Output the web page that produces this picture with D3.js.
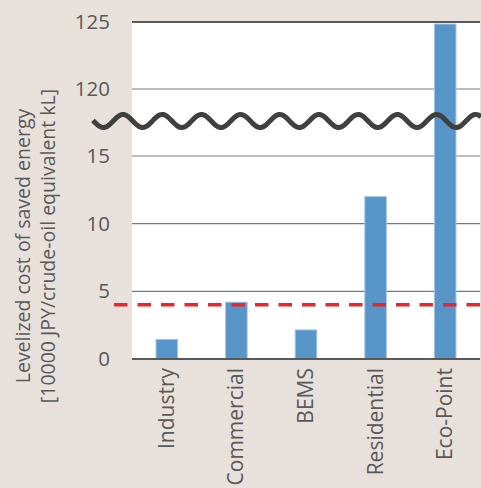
<!DOCTYPE html>
<html>
<head>
<meta charset="utf-8">
<script src="https://cdn.jsdelivr.net/npm/d3@7"></script>
<style>
  html, body { margin: 0; padding: 0; background: #e8e0db; }
  svg { display: block; }
</style>
</head>
<body>
<svg id="chart"></svg>
<script>
// Chart data
const categories = ["Industry", "Commercial", "BEMS", "Residential", "Eco-Point"];
const values = [1.45, 4.2, 2.15, 12.0, 124.85];
const lowerTicks = [0, 5, 10, 15];
const upperTicks = [120, 125];
const threshold = 4.0;

const width = 481;
const height = 488;
const font = "'Open Sans', sans-serif";
const textColor = "#595959";

const svg = d3.select("#chart")
    .attr("width", width)
    .attr("height", height);

// Plot area bounds
const left = 132, right = 480;

// Broken y axis: two scales with the same step
const yLow = d3.scaleLinear().domain([0, 15]).range([359, 156]);
const yHigh = d3.scaleLinear().domain([120, 125]).range([89, 22]);
const y = v => v <= 15 ? yLow(v) : yHigh(v);

const x = d3.scaleBand()
    .domain(categories)
    .range([left, right])
    .paddingInner(0.69)
    .paddingOuter(0.345);

// White plot background
svg.append("rect")
    .attr("x", left)
    .attr("y", yHigh(125))
    .attr("width", right - left)
    .attr("height", yLow(0) - yHigh(125))
    .attr("fill", "#fff");

// Gridlines
const grid = svg.append("g");
grid.selectAll("line.low")
    .data(lowerTicks.filter(d => d > 0))
    .join("line")
    .attr("x1", left).attr("x2", right)
    .attr("y1", d => yLow(d)).attr("y2", d => yLow(d))
    .attr("stroke", "#7a7a7a")
    .attr("stroke-width", 1.2);
grid.selectAll("line.high")
    .data(upperTicks)
    .join("line")
    .attr("x1", left).attr("x2", right)
    .attr("y1", d => yHigh(d)).attr("y2", d => yHigh(d))
    .attr("stroke", d => d === 125 ? "#595959" : "#7a7a7a")
    .attr("stroke-width", d => d === 125 ? 2 : 1.2);

// Y axes (labels only)
const axisLow = svg.append("g")
    .attr("transform", `translate(${left},0)`)
    .call(d3.axisLeft(yLow).tickValues(lowerTicks).tickFormat(d3.format("d")).tickSize(0).tickPadding(22));
const axisHigh = svg.append("g")
    .attr("transform", `translate(${left},0)`)
    .call(d3.axisLeft(yHigh).tickValues(upperTicks).tickFormat(d3.format("d")).tickSize(0).tickPadding(22));
[axisLow, axisHigh].forEach(a => {
    a.select(".domain").remove();
    a.selectAll("text")
        .attr("font-family", font)
        .attr("font-size", "20.5px")
        .attr("fill", textColor);
});

// Bars
svg.append("g")
    .selectAll("rect")
    .data(values)
    .join("rect")
    .attr("x", (d, i) => x(categories[i]))
    .attr("width", x.bandwidth())
    .attr("y", d => y(d))
    .attr("height", d => yLow(0) - y(d))
    .attr("fill", "#5794c8")
    .attr("stroke", "#a4c6e6")
    .attr("stroke-width", 1);

// Baseline
svg.append("line")
    .attr("x1", left).attr("x2", right)
    .attr("y1", yLow(0)).attr("y2", yLow(0))
    .attr("stroke", "#595959")
    .attr("stroke-width", 2);

// Red dashed threshold line
svg.append("line")
    .attr("x1", 114).attr("x2", right)
    .attr("y1", yLow(threshold)).attr("y2", yLow(threshold))
    .attr("stroke", "#e8262b")
    .attr("stroke-width", 3.5)
    .attr("stroke-dasharray", "13.5 10");

// Axis break wave
const waveY = (yLow(15) + yHigh(120)) / 2 - 1.5;
const wavePts = d3.range(93, 482, 1).map(px => [px, waveY - 6.5 * Math.cos((px - 123) / 39.2 * 2 * Math.PI)]);
svg.append("path")
    .attr("d", d3.line()(wavePts))
    .attr("fill", "none")
    .attr("stroke", "#404040")
    .attr("stroke-width", 5);

// Category labels
svg.append("g")
    .selectAll("text")
    .data(categories)
    .join("text")
    .attr("transform", d => `translate(${x(d) + x.bandwidth() / 2},368) rotate(-90)`)
    .attr("dy", "0.33em")
    .attr("text-anchor", "end")
    .attr("font-family", font)
    .attr("font-size", "21px")
    .attr("fill", textColor)
    .text(d => d);

// Y axis title
const title = svg.append("text")
    .attr("transform", "translate(0,246) rotate(-90)")
    .attr("text-anchor", "middle")
    .attr("font-family", font)
    .attr("font-size", "19.5px")
    .attr("fill", textColor);
title.append("tspan").attr("x", 0).attr("y", 30).text("Levelized cost of saved energy");
title.append("tspan").attr("x", 0).attr("y", 55).text("[10000 JPY/crude-oil equivalent kL]");
</script>
</body>
</html>
